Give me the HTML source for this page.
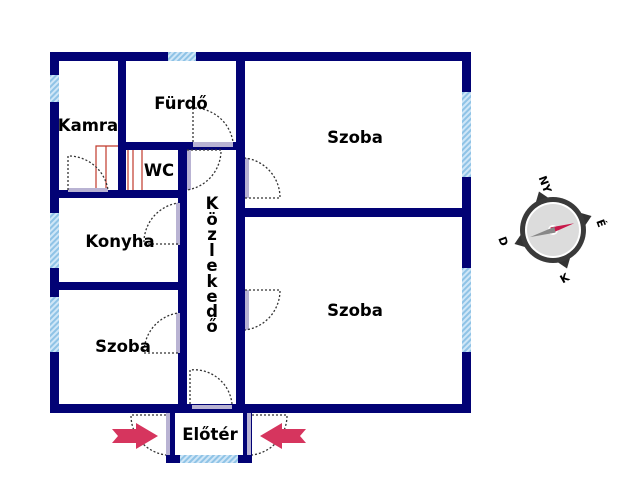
<!DOCTYPE html>
<html><head><meta charset="utf-8"><style>
html,body{margin:0;padding:0;background:#fff;width:640px;height:500px;overflow:hidden}
svg{display:block}
text{font-family:"DejaVu Sans","Liberation Sans",sans-serif;font-weight:bold;fill:#000}
</style></head><body>
<svg width="640" height="500" viewBox="0 0 640 500" xmlns="http://www.w3.org/2000/svg">
<defs>
<pattern id="h" width="4" height="4" patternUnits="userSpaceOnUse" patternTransform="rotate(45)">
<rect width="4" height="4" fill="#cfe6f7"/><rect width="2" height="4" fill="#8fc3e6"/></pattern>
</defs>
<g fill="#020275">
<rect x="50" y="52" width="420" height="9" rx="2"/>
<rect x="50" y="52" width="9" height="360"/>
<rect x="462" y="52" width="9" height="360"/>
<rect x="50" y="404" width="421" height="9"/>
<rect x="118" y="52" width="8" height="146"/>
<rect x="118" y="142" width="127" height="8"/>
<rect x="236" y="52" width="9" height="360"/>
<rect x="178" y="142" width="9" height="270"/>
<rect x="50" y="190" width="137" height="8"/>
<rect x="245" y="208" width="225" height="9"/>
<rect x="50" y="282" width="137" height="8"/>
<rect x="166" y="404" width="9" height="59"/>
<rect x="243" y="404" width="9" height="59"/>
<rect x="166" y="455" width="86" height="8"/>
</g>
<g fill="url(#h)">
<rect x="168" y="52" width="28" height="9"/>
<rect x="50" y="75" width="9" height="27"/>
<rect x="50" y="213" width="9" height="55"/>
<rect x="50" y="297" width="9" height="55"/>
<rect x="462" y="92" width="9" height="85"/>
<rect x="462" y="268" width="9" height="84"/>
<rect x="180" y="455" width="58" height="8"/>
</g>
<g stroke="#c0392b" stroke-width="1.2" fill="none">
<path d="M96 190 V146 H118 M106 146 V190"/>
<path d="M128 150 V190 M133 150 V190 M142 150 V190"/>
</g>
<g fill="#b9b3d3">
<rect x="68" y="188" width="40" height="4"/>
<rect x="193" y="142" width="40" height="5"/>
<rect x="187" y="150" width="4" height="40"/>
<rect x="245" y="158" width="4" height="40"/>
<rect x="176" y="203" width="4" height="42"/>
<rect x="176" y="313" width="4" height="40"/>
<rect x="245" y="290" width="4" height="40"/>
<rect x="192" y="405" width="40" height="4"/>
<rect x="166" y="413" width="4" height="42"/>
<rect x="247" y="413" width="4" height="42"/>
</g>
<g stroke="#333" stroke-width="1.3" stroke-dasharray="2,2" fill="none">
<path d="M68 190 V156 A40 40 0 0 1 108 190"/>
<path d="M193 142 V108 A40 40 0 0 1 233 142"/>
<path d="M187 150 H221 A40 40 0 0 1 187 190"/>
<path d="M245 198 H280 A40 40 0 0 0 245 158"/>
<path d="M178 244 H144 A40 40 0 0 1 178 203"/>
<path d="M178 353 H144 A40 40 0 0 1 178 313"/>
<path d="M245 290 H280 A40 40 0 0 1 245 330"/>
<path d="M190 404 V370 A38 38 0 0 1 232 404"/>
<path d="M166 415 H131 A40 40 0 0 0 166 455"/>
<path d="M252 415 H287 A40 40 0 0 1 252 455"/>
</g>
<path d="M112 429 H136 V423 L158 436 L136 449 V443 H112 L118 436 Z" fill="#d6355e"/>
<path d="M306 429 H282 V423 L260 436 L282 449 V443 H306 L300 436 Z" fill="#d6355e"/>
<g font-size="16.5" text-anchor="middle">
<text x="88" y="131">Kamra</text>
<text x="181" y="109">Fürdő</text>
<text x="159" y="176">WC</text>
<text x="355" y="143">Szoba</text>
<text x="120" y="247">Konyha</text>
<text x="123" y="352">Szoba</text>
<text x="355" y="316">Szoba</text>
<text x="210" y="440">Előtér</text>
<text x="212" y="209">K</text><text x="212" y="225">ö</text><text x="212" y="240">z</text>
<text x="212" y="256">l</text><text x="212" y="271">e</text><text x="212" y="287">k</text>
<text x="212" y="302">e</text><text x="212" y="317">d</text><text x="212" y="332">ő</text>
</g>
<g transform="translate(553,230)">
<g transform="rotate(-20)" fill="#333">
<path d="M-8 -30 L0 -41 L8 -30 Z"/><path d="M-8 30 L0 41 L8 30 Z"/>
<path d="M-30 -8 L-41 0 L-30 8 Z"/><path d="M30 -8 L41 0 L30 8 Z"/>
</g>
<circle r="33" fill="#3a3a3a"/>
<circle r="28" fill="#fff"/>
<circle r="26" fill="#dcdcdc"/>
<circle r="5" fill="#fff"/>
<path d="M-2 -3 L22 -3 L-2 3 Z" transform="rotate(-10)" fill="#c8184a"/>
<path d="M2 -3 L-24 3 L2 3 Z" transform="rotate(-10)" fill="#888"/>
<g fill="#444" font-size="11">
<text x="-12" y="-48" transform="rotate(70 -10 -52)">NY</text>
<text x="46" y="-7" transform="rotate(70 46 -10)">É</text>
<text x="-54" y="13" transform="rotate(70 -51 10)">D</text>
<text x="8" y="53" transform="rotate(-30 10 50)">K</text>
</g>
</g>
</svg>
</body></html>
